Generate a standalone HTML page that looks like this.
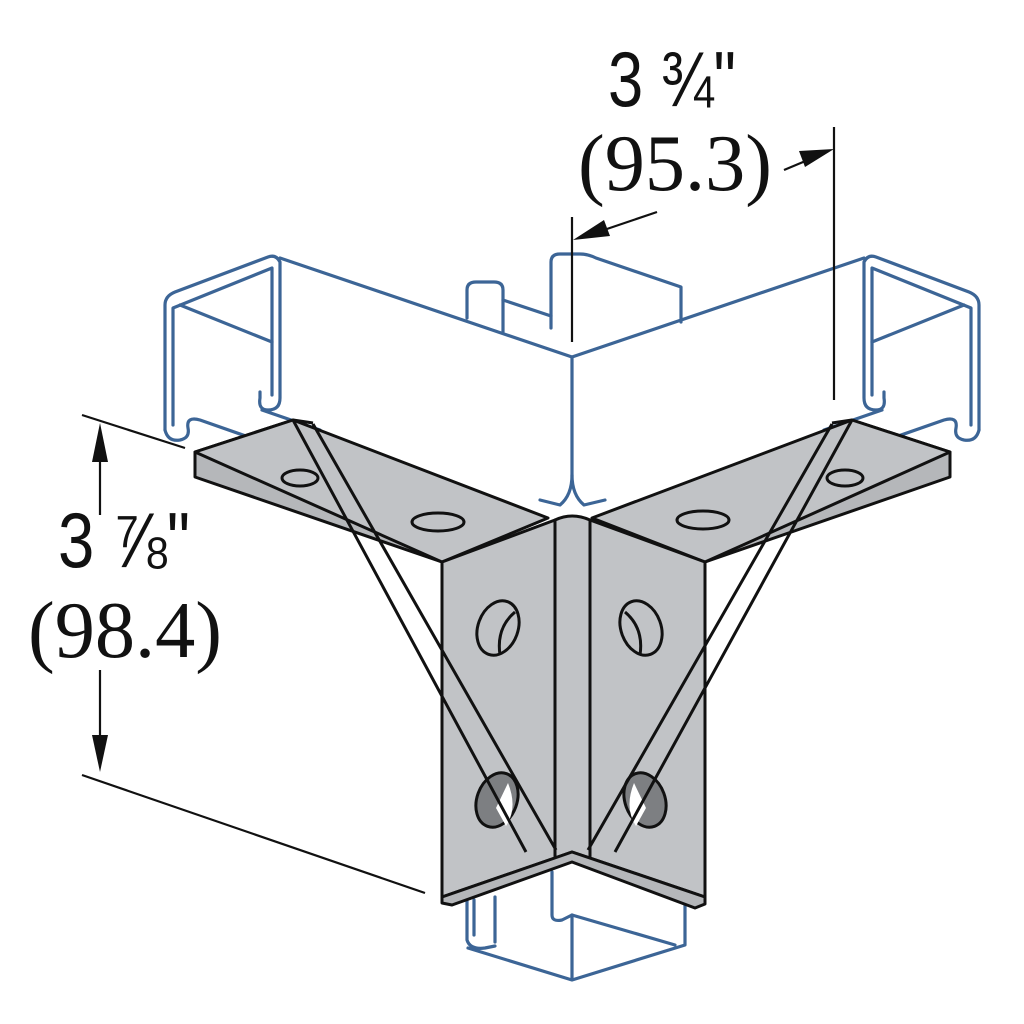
<!DOCTYPE html>
<html><head><meta charset="utf-8"><style>html,body{margin:0;padding:0;background:#fff}svg{display:block}</style></head>
<body>
<svg width="1024" height="1024" viewBox="0 0 1024 1024" xmlns="http://www.w3.org/2000/svg">
<g fill="none" stroke="#3c6596" stroke-width="3.2" stroke-linejoin="round" stroke-linecap="round">
  <!-- back post & cylinder -->
  <path d="M551,328 V262 Q551,254 560,254 H580 Q588,254 596,258 L681,287 V322"/>
  <path d="M467,318 V290 Q467,282 476,282 H494 Q503,282 503,290 V332"/>
  <path d="M503,300 L551,316"/>
  <g id="lch">
    <path d="M165,430 V305 Q165,296 175,292 L268,257 Q276,254 280,262 V398 Q280,410 268,410 Q258,410 260,398 V392"/>
    <path d="M173,425 V308 L272,268 V395"/>
    <path d="M180,305 L272,342"/>
    <path d="M165,430 Q168,442 180,440 Q190,438 188,428 Q186,416 200,420 L300,455"/>
    <path d="M262,410 L320,430"/>
  </g>
  <use href="#lch" transform="translate(1144,0) scale(-1,1)"/>
  <path d="M280,258 L572,357 L864,258"/>
  <!-- corner vertical -->
  <path d="M572,357 V475 Q572,495 560,505 L540,500"/>
  <path d="M572,475 Q572,495 584,505 L605,500"/>
  <!-- bottom channel -->
  <path d="M467,898 V940 Q470,950 485,948 L495,946"/>
  <path d="M474,900 V935"/>
  <path d="M495,897 V942"/>
  <path d="M468,948 L572,980 L685,945 V900"/>
  <path d="M552,872 V915 Q552,922 562,920 L572,915 L675,945"/>
  <path d="M572,915 V978"/>
</g>
<!-- plates -->
<g fill="#c1c3c6" stroke="#111" stroke-width="3" stroke-linejoin="round">
  <path d="M195,452 L195,477 L442,562 L442,560 L293,420 Z" fill="#b5b7ba"/>
  <path d="M195,452 L293,420 L548,518 L442,562 Z"/>
  <path d="M950,452 L950,477 L705,562 L852,420 Z" fill="#b5b7ba"/>
  <path d="M950,452 L852,420 L592,518 L705,562 Z"/>
  <path d="M442,562 L555,520 L555,858 L442,897 Z"/>
  <path d="M555,520 Q572,512 590,520 L590,858 L572,852 L555,858 Z"/>
  <path d="M590,520 L705,562 L705,897 L590,858 Z"/>
  <path d="M442,897 L572,852 L705,897 L705,904 L695,908 L572,862 L452,905 L442,903 Z" fill="#b5b7ba"/>
</g>
<g fill="none" stroke="#111" stroke-width="3">
  <ellipse cx="300" cy="478" rx="18" ry="8"/>
  <ellipse cx="438" cy="522" rx="26" ry="9"/>
  <ellipse cx="703" cy="520" rx="26" ry="9"/>
  <ellipse cx="845" cy="478" rx="18" ry="8"/>
  <ellipse cx="498" cy="628" rx="20" ry="28" transform="rotate(20 498 628)"/>
  <path d="M515,612 Q496,628 500,655"/>
  <ellipse cx="641" cy="628" rx="20" ry="28" transform="rotate(-20 641 628)"/>
  <path d="M625,612 Q644,628 640,655"/>
  <ellipse cx="497" cy="800" rx="20" ry="28" transform="rotate(20 497 800)" fill="#7d7f82"/>
  <ellipse cx="645" cy="800" rx="20" ry="28" transform="rotate(-20 645 800)" fill="#7d7f82"/>
  <path d="M508,783 Q518,808 506,826 L496,808 Z" fill="#fff" stroke="none"/>
  <path d="M634,783 Q624,808 636,826 L646,808 Z" fill="#fff" stroke="none"/>
  <path d="M293,420 L313,423 M293,420 L526,852 M313,424 L556,850"/>
  <path d="M852,420 L832,423 M852,420 L615,852 M832,424 L588,850"/>
</g>
<!-- dimensions -->
<g stroke="#111" stroke-width="2.2" fill="none">
  <path d="M82,415 L185,448"/>
  <path d="M82,775 L425,893"/>
  <path d="M100,440 V515"/>
  <path d="M100,670 V755"/>
  <path d="M834,127 V400"/>
  <path d="M572,217 V342"/>
  <path d="M784,170 L815,157"/>
  <path d="M657,212 L595,233"/>
</g>
<g fill="#111">
  <path d="M100,423 L92,462 L108,462 Z"/>
  <path d="M100,772 L92,735 L108,735 Z"/>
  <path d="M834,149 L799,151 L805,167 Z"/>
  <path d="M573,240 L604,220 L610,236 Z"/>
</g>
<g fill="#111">
  <text x="58" y="567" font-family="Liberation Sans Narrow, Liberation Sans, sans-serif" font-size="78" textLength="132" lengthAdjust="spacingAndGlyphs">3 ⅞"</text>
  <text x="28" y="657" font-family="Liberation Serif, serif" font-size="80" textLength="194" lengthAdjust="spacingAndGlyphs">(98.4)</text>
  <text x="608" y="106" font-family="Liberation Sans Narrow, Liberation Sans, sans-serif" font-size="78" textLength="128" lengthAdjust="spacingAndGlyphs">3 ¾"</text>
  <text x="578" y="190" font-family="Liberation Serif, serif" font-size="80" textLength="194" lengthAdjust="spacingAndGlyphs">(95.3)</text>
</g>
</svg>
</body></html>
